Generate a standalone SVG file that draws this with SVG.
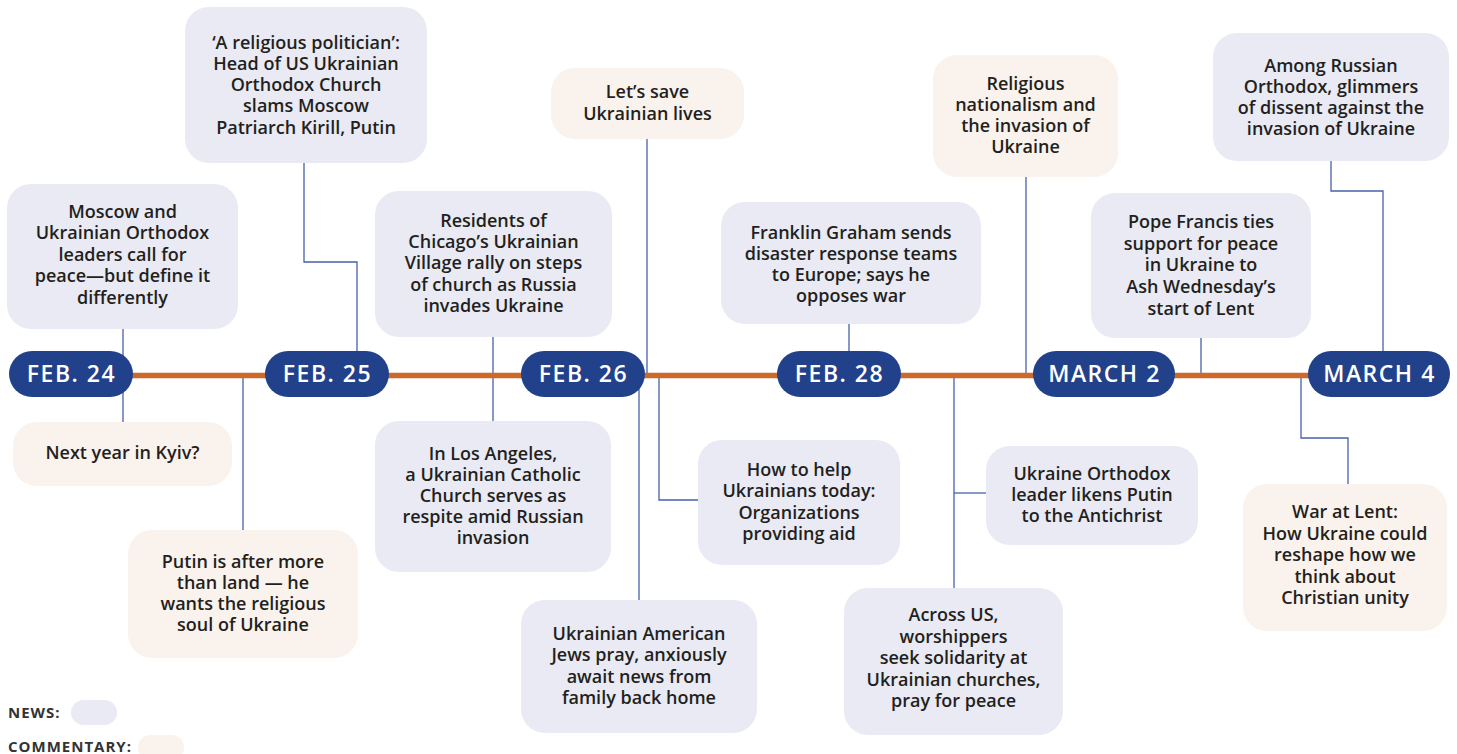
<svg xmlns="http://www.w3.org/2000/svg" width="1457" height="754" viewBox="0 0 1457 754">
<style>
.news{fill:#e9eaf3}
.comm{fill:#faf2ec}
.t{font-family:"Open Sans","Lato",sans-serif;font-weight:600;font-size:18px;fill:#231f20;text-anchor:middle}
.pill{fill:#22418b}
.pt{font-family:"Open Sans","Lato",sans-serif;font-weight:600;font-size:23px;fill:#ffffff;text-anchor:middle;letter-spacing:1.5px}
.lg{font-family:"Open Sans","Lato",sans-serif;font-weight:700;font-size:15px;fill:#333333;letter-spacing:1px}
.c{fill:none;stroke:#4760ab;stroke-width:1.3}
</style>
<rect width="1457" height="754" fill="#ffffff"/>
<g id="connectors">
<path class="c" d="M123 329 V422"/>
<path class="c" d="M304 163 V262 H357 V351"/>
<path class="c" d="M243 376 V530"/>
<path class="c" d="M493 337 V421"/>
<path class="c" d="M647 139 V376"/>
<path class="c" d="M639 376 V600"/>
<path class="c" d="M659 376 V500 H698"/>
<path class="c" d="M849 324 V351"/>
<path class="c" d="M1026 177 V376"/>
<path class="c" d="M954 376 V588"/>
<path class="c" d="M954 493 H986"/>
<path class="c" d="M1201 338 V376"/>
<path class="c" d="M1331 161 V191 H1383 V351"/>
<path class="c" d="M1301 376 V438 H1348 V484"/>
</g>
<g id="timeline">
<line x1="125" y1="375.5" x2="1315" y2="375.5" stroke="#cd6a2a" stroke-width="5.5"/>
</g>
<g id="date-feb24"><rect class="pill" x="9" y="351" width="124" height="46" rx="23"/><text class="pt" x="71.5" y="382">FEB. 24</text></g>
<g id="date-feb25"><rect class="pill" x="265" y="351" width="124" height="46" rx="23"/><text class="pt" x="327.5" y="382">FEB. 25</text></g>
<g id="date-feb26"><rect class="pill" x="521" y="351" width="124" height="46" rx="23"/><text class="pt" x="583.5" y="382">FEB. 26</text></g>
<g id="date-feb28"><rect class="pill" x="777" y="351" width="124" height="46" rx="23"/><text class="pt" x="839.5" y="382">FEB. 28</text></g>
<g id="date-march2"><rect class="pill" x="1033" y="351" width="142" height="46" rx="23"/><text class="pt" x="1104.5" y="382">MARCH 2</text></g>
<g id="date-march4"><rect class="pill" x="1308" y="351" width="142" height="46" rx="23"/><text class="pt" x="1379.5" y="382">MARCH 4</text></g>

<g id="n-moscow"><rect class="news" x="7" y="184" width="231" height="145" rx="24"/>
<text class="t"><tspan x="122.5" y="217.5">Moscow and</tspan><tspan x="122.5" y="239">Ukrainian Orthodox</tspan><tspan x="122.5" y="260.5">leaders call for</tspan><tspan x="122.5" y="282">peace—but define it</tspan><tspan x="122.5" y="303.5">differently</tspan></text></g>

<g id="n-kyiv"><rect class="comm" x="13" y="422" width="219" height="64" rx="24"/>
<text class="t"><tspan x="122.5" y="459">Next year in Kyiv?</tspan></text></g>

<g id="n-politician"><rect class="news" x="185" y="7" width="242" height="156" rx="24"/>
<text class="t"><tspan x="306" y="48.5">‘A religious politician’:</tspan><tspan x="306" y="69.8">Head of US Ukrainian</tspan><tspan x="306" y="91.1">Orthodox Church</tspan><tspan x="306" y="112.4">slams Moscow</tspan><tspan x="306" y="133.7">Patriarch Kirill, Putin</tspan></text></g>

<g id="n-putin-soul"><rect class="comm" x="128" y="530" width="230" height="128" rx="24"/>
<text class="t"><tspan x="243" y="567.7">Putin is after more</tspan><tspan x="243" y="588.9">than land — he</tspan><tspan x="243" y="610.1">wants the religious</tspan><tspan x="243" y="631.3">soul of Ukraine</tspan></text></g>

<g id="n-chicago"><rect class="news" x="375" y="191" width="237" height="146" rx="24"/>
<text class="t"><tspan x="493.5" y="227">Residents of</tspan><tspan x="493.5" y="248.2">Chicago’s Ukrainian</tspan><tspan x="493.5" y="269.4">Village rally on steps</tspan><tspan x="493.5" y="290.6">of church as Russia</tspan><tspan x="493.5" y="311.8">invades Ukraine</tspan></text></g>

<g id="n-losangeles"><rect class="news" x="375" y="421" width="236" height="151" rx="24"/>
<text class="t"><tspan x="493" y="459.6">In Los Angeles,</tspan><tspan x="493" y="480.8">a Ukrainian Catholic</tspan><tspan x="493" y="502">Church serves as</tspan><tspan x="493" y="523.2">respite amid Russian</tspan><tspan x="493" y="544.4">invasion</tspan></text></g>

<g id="n-save"><rect class="comm" x="551" y="68" width="193" height="71" rx="24"/>
<text class="t"><tspan x="647.5" y="98.4">Let’s save</tspan><tspan x="647.5" y="119.6">Ukrainian lives</tspan></text></g>

<g id="n-jews"><rect class="news" x="521" y="600" width="236" height="133" rx="24"/>
<text class="t"><tspan x="639" y="640.2">Ukrainian American</tspan><tspan x="639" y="661.4">Jews pray, anxiously</tspan><tspan x="639" y="682.6">await news from</tspan><tspan x="639" y="703.8">family back home</tspan></text></g>

<g id="n-help"><rect class="news" x="698" y="440" width="202" height="125" rx="24"/>
<text class="t"><tspan x="799" y="476.2">How to help</tspan><tspan x="799" y="497.4">Ukrainians today:</tspan><tspan x="799" y="518.6">Organizations</tspan><tspan x="799" y="539.8">providing aid</tspan></text></g>

<g id="n-graham"><rect class="news" x="721" y="202" width="260" height="122" rx="24"/>
<text class="t"><tspan x="851" y="238.5">Franklin Graham sends</tspan><tspan x="851" y="259.8">disaster response teams</tspan><tspan x="851" y="281.1">to Europe; says he</tspan><tspan x="851" y="302.4">opposes war</tspan></text></g>

<g id="n-nationalism"><rect class="comm" x="933" y="55" width="185" height="122" rx="24"/>
<text class="t"><tspan x="1025.5" y="89.7">Religious</tspan><tspan x="1025.5" y="110.9">nationalism and</tspan><tspan x="1025.5" y="132.1">the invasion of</tspan><tspan x="1025.5" y="153.3">Ukraine</tspan></text></g>

<g id="n-antichrist"><rect class="news" x="986" y="446" width="212" height="99" rx="24"/>
<text class="t"><tspan x="1092" y="479.8">Ukraine Orthodox</tspan><tspan x="1092" y="501">leader likens Putin</tspan><tspan x="1092" y="522.2">to the Antichrist</tspan></text></g>

<g id="n-acrossus"><rect class="news" x="844" y="588" width="219" height="147" rx="24"/>
<text class="t"><tspan x="953.5" y="621">Across US,</tspan><tspan x="953.5" y="642.5">worshippers</tspan><tspan x="953.5" y="664">seek solidarity at</tspan><tspan x="953.5" y="685.5">Ukrainian churches,</tspan><tspan x="953.5" y="707">pray for peace</tspan></text></g>

<g id="n-pope"><rect class="news" x="1091" y="193" width="220" height="145" rx="24"/>
<text class="t"><tspan x="1201" y="228">Pope Francis ties</tspan><tspan x="1201" y="249.5">support for peace</tspan><tspan x="1201" y="271">in Ukraine to</tspan><tspan x="1201" y="292.5">Ash Wednesday’s</tspan><tspan x="1201" y="315">start of Lent</tspan></text></g>

<g id="n-dissent"><rect class="news" x="1213" y="33" width="236" height="128" rx="24"/>
<text class="t"><tspan x="1331" y="71.5">Among Russian</tspan><tspan x="1331" y="92.7">Orthodox, glimmers</tspan><tspan x="1331" y="113.9">of dissent against the</tspan><tspan x="1331" y="135.1">invasion of Ukraine</tspan></text></g>

<g id="n-lent"><rect class="comm" x="1243" y="484" width="204" height="147" rx="24"/>
<text class="t"><tspan x="1345" y="518">War at Lent:</tspan><tspan x="1345" y="539.5">How Ukraine could</tspan><tspan x="1345" y="561">reshape how we</tspan><tspan x="1345" y="582.5">think about</tspan><tspan x="1345" y="604">Christian unity</tspan></text></g>

<g id="legend">
<text class="lg" x="8" y="718">NEWS:</text>
<rect class="news" x="71" y="700" width="46" height="25" rx="12.5"/>
<text class="lg" x="8" y="752">COMMENTARY:</text>
<rect class="comm" x="138" y="735" width="46" height="25" rx="12.5"/>
</g>
</svg>
